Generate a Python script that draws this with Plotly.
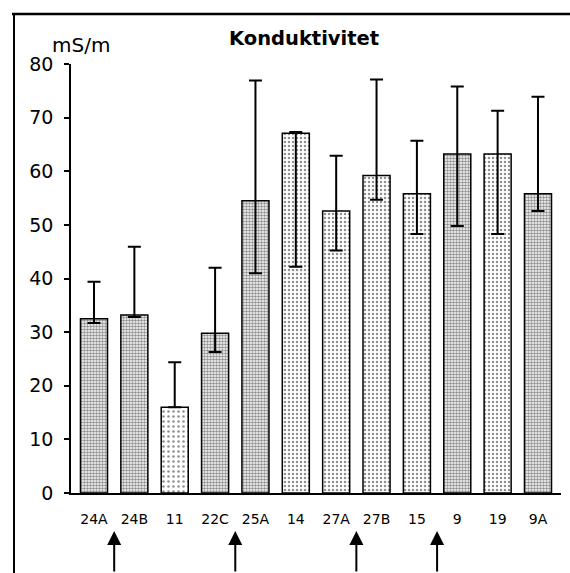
import plotly.graph_objects as go

# Sampling stations and measured conductivity (mS/m)
stations = ["24A", "24B", "11", "22C", "25A", "14", "27A", "27B", "15", "9", "19", "9A"]
mean_val = [32.5, 33.2, 16.0, 29.8, 54.5, 67.1, 52.6, 59.2, 55.8, 63.2, 63.2, 55.8]
max_val = [39.4, 45.9, 24.4, 42.0, 76.9, 67.3, 62.9, 77.1, 65.7, 75.8, 71.3, 73.9]
min_val = [31.7, 32.8, 16.0, 26.3, 41.0, 42.2, 45.2, 54.7, 48.3, 49.8, 48.3, 52.6]
# Shading group per station: "dark" = dense stipple, "light" = sparse stipple
shade = ["dark", "dark", "pale", "dark", "dark", "light", "light", "light", "light", "dark", "light", "dark"]
# Arrows placed between stations (index positions)
arrow_pos = [0.5, 3.5, 6.5, 8.5]

W, H = 570, 573
ML, MR, MT, MB = 71, 9, 64, 80
pw, ph = W - ML - MR, H - MT - MB


def px_x(px):
    return (px - ML) / pw


def px_y(py):
    return (H - MB - py) / ph


pat_size = {"dark": 3, "light": 4, "pale": 5}
pat_sol = {"dark": 0.55, "light": 0.3, "pale": 0.2}

xs = list(range(len(stations)))
fig = go.Figure(
    go.Bar(
        x=xs,
        y=mean_val,
        width=0.67,
        marker=dict(
            color="white",
            line=dict(color="black", width=1.5),
            pattern=dict(
                shape=["."] * len(stations),
                size=[pat_size[s] for s in shade],
                solidity=[pat_sol[s] for s in shade],
                fgcolor="#222222",
                bgcolor="white",
                fillmode="overlay",
            ),
        ),
        error_y=dict(
            type="data",
            symmetric=False,
            array=[mx - m for mx, m in zip(max_val, mean_val)],
            arrayminus=[m - mn for mn, m in zip(min_val, mean_val)],
            color="black",
            thickness=2,
            width=6.5,
        ),
    )
)

fig.update_layout(
    width=W,
    height=H,
    margin=dict(l=ML, r=MR, t=MT, b=MB),
    paper_bgcolor="white",
    plot_bgcolor="white",
    showlegend=False,
    font=dict(family="DejaVu Sans", color="black"),
    bargap=0.33,
)

fig.update_xaxes(
    range=[-0.57, 11.57],
    tickvals=xs,
    ticktext=stations,
    showline=True,
    linecolor="black",
    linewidth=1.5,
    ticks="",
    showgrid=False,
    zeroline=False,
    tickfont=dict(size=14),
    ticklabelstandoff=12,
)
fig.update_yaxes(
    range=[0, 80],
    dtick=10,
    showline=True,
    linecolor="black",
    linewidth=1.5,
    ticks="outside",
    ticklen=5,
    tickwidth=1.5,
    tickcolor="black",
    showgrid=False,
    zeroline=False,
    tickfont=dict(size=19),
    ticklabelstandoff=7,
)

# Title and unit label
fig.add_annotation(
    text="<b>Konduktivitet</b>", xref="paper", yref="paper",
    x=px_x(304), y=px_y(38), showarrow=False, font=dict(size=19.5),
    xanchor="center", yanchor="middle",
)
fig.add_annotation(
    text="mS/m", xref="paper", yref="paper",
    x=px_x(50), y=px_y(45), showarrow=False, font=dict(size=20),
    xanchor="left", yanchor="middle",
)

# Upward arrows below the axis
for p in arrow_pos:
    fig.add_annotation(
        x=p, xref="x", y=px_y(531), yref="paper", text="",
        showarrow=True, ax=0, ay=H - 531 + 4, axref="pixel", ayref="pixel",
        arrowhead=2, arrowsize=1.4, arrowwidth=2, arrowcolor="black",
    )

# Frame lines along top and left of the figure
fig.add_shape(type="line", xref="paper", yref="paper",
              x0=px_x(12), x1=px_x(W + 2), y0=px_y(14), y1=px_y(14),
              line=dict(color="black", width=2.5))
fig.add_shape(type="line", xref="paper", yref="paper",
              x0=px_x(14), x1=px_x(14), y0=px_y(14), y1=px_y(H + 2),
              line=dict(color="black", width=2))

fig.write_html("out.html")
